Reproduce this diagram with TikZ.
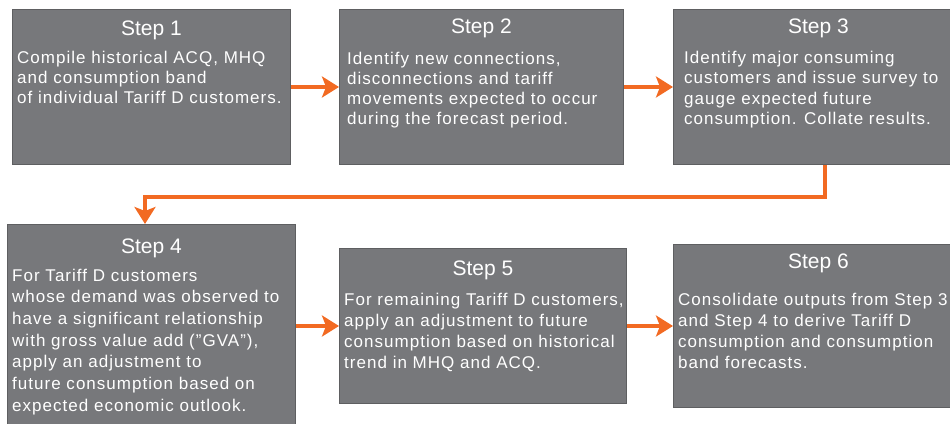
\documentclass[tikz,border=0pt]{standalone}
\usepackage{fontspec}
\setmainfont{Liberation Sans}
\newfontfamily\stepbodyfont[LetterSpace=6]{Liberation Sans}
\usetikzlibrary{arrows.meta,calc}
\definecolor{boxgray}{HTML}{77787B}
\definecolor{boxline}{HTML}{5E5F61}
\definecolor{flowor}{HTML}{F26A22}
\tikzset{
  stepbox/.style={draw=boxline, line width=1pt, fill=boxgray, anchor=north west, inner sep=0pt},
  steptitle/.style={text=white, font=\fontsize{21}{24}\selectfont, anchor=base, inner sep=0pt},
  stepbody/.style={text=white, font=\stepbodyfont\fontsize{17}{#1}\selectfont, anchor=base west, inner sep=0pt},
  flow/.style={draw=flowor, line width=3.5pt, -{Stealth[length=17pt,width=21pt,inset=4pt]}}
}
\newcommand{\bodylines}[1]{\parbox[t]{330pt}{\raggedright #1}}
\begin{document}
\begin{tikzpicture}[x=1pt,y=-1pt]
  \useasboundingbox (0,0) rectangle (950,423);
  \clip (0,0) rectangle (950,423);
  \fill[white] (0,0) rectangle (950,423);

  % boxes
  \node[stepbox, minimum width=278pt, minimum height=155pt] (s1) at (12,9) {};
  \node[stepbox, minimum width=284pt, minimum height=155pt] (s2) at (339,9) {};
  \node[stepbox, minimum width=290pt, minimum height=155pt] (s3) at (673,9) {};
  \node[stepbox, minimum width=288pt, minimum height=210pt] (s4) at (7,224) {};
  \node[stepbox, minimum width=287pt, minimum height=155pt] (s5) at (339,248) {};
  \node[stepbox, minimum width=290pt, minimum height=163pt] (s6) at (673,244) {};

  % titles
  \node[steptitle] (h1) at ($(s1.north)+(0,26)$) {Step 1};
  \node[steptitle] (h2) at ($(s2.north)+(0,24)$) {Step 2};
  \node[steptitle] (h3) at ($(s3.north)+(0,24)$) {Step 3};
  \node[steptitle] (h4) at ($(s4.north)+(0,29)$) {Step 4};
  \node[steptitle] (h5) at ($(s5.north)+(0,27)$) {Step 5};
  \node[steptitle] (h6) at ($(s6.north)+(0,24)$) {Step 6};

  % descriptions
  \node[stepbody=20] (b1) at (17,63) {\bodylines{Compile historical ACQ, MHQ\\and consumption band\\of individual Tariff D customers.}};
  \node[stepbody=20.3] (b2) at (347,64) {\bodylines{Identify new connections,\\disconnections and tariff\\movements expected to occur\\during the forecast period.}};
  \node[stepbody=20.5] (b3) at (684,63) {\bodylines{Identify major consuming\\customers and issue survey to\\gauge expected future\\consumption. Collate results.}};
  \node[stepbody=21.7] (b4) at (12,281) {\bodylines{For Tariff D customers\\whose demand was observed to\\have a significant relationship\\with gross value add (”GVA”),\\apply an adjustment to\\future consumption based on\\expected economic outlook.}};
  \node[stepbody=21] (b5) at (344,305) {\bodylines{For remaining Tariff D customers,\\apply an adjustment to future\\consumption based on historical\\trend in MHQ and ACQ.}};
  \node[stepbody=21] (b6) at (678,305) {\bodylines{Consolidate outputs from Step 3\\and Step 4 to derive Tariff D\\consumption and consumption\\band forecasts.}};

  % connectors
  \coordinate (turnA) at (825,197);
  \coordinate (turnB) at (145,197);
  \draw[flow] (s1.east) -- (s2.west);
  \draw[flow] (s2.east) -- (s3.west |- s2.east);
  \draw[flow] (s3.south -| turnA) -- (turnA) -- (turnB) -- (s4.north -| turnB);
  \draw[flow] (s4.east |- s5.west) -- (s5.west);
  \draw[flow] (s5.east) -- (s6.west);
\end{tikzpicture}
\end{document}
